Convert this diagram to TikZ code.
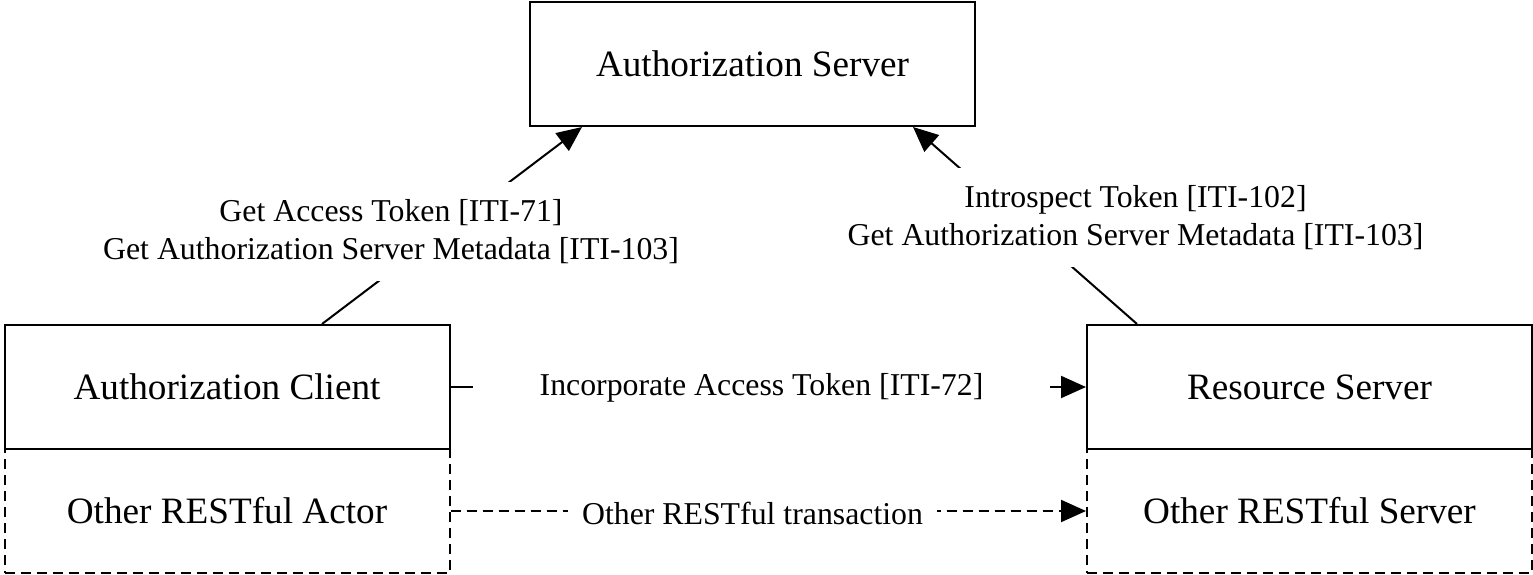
\documentclass[tikz,border=0pt]{standalone}
\usepackage{fontspec}
\setmainfont{Liberation Serif}
\usetikzlibrary{arrows.meta}
\begin{document}
\begin{tikzpicture}[x=1pt,y=-1pt,
  box/.style={draw, line width=2pt, minimum width=445pt, minimum height=124pt,
    inner sep=0pt, font=\fontsize{37.2}{44}\selectfont},
  altbox/.style={box, dash pattern=on 10pt off 6pt},
  flow/.style={line width=2pt, -{Triangle[length=25pt,width=22pt]}},
  altflow/.style={flow, dash pattern=on 10pt off 6pt},
  lbl/.style={fill=white, inner sep=0pt, align=center,
    font=\fontsize{31.8}{37.5}\selectfont}]
\useasboundingbox (0,0) rectangle (1533,575);

% actors
\node[box] (as) at (752.5,64) {Authorization Server};
\node[altbox] (ao) at (227,511) {Other RESTful Actor};
\node[altbox] (ro) at (1309.5,511) {Other RESTful Server};
\node[box] (ac) at (227,387) {Authorization Client};
\node[box] (rs) at (1309.5,387) {Resource Server};

% transactions
\draw[flow] ([xshift=95pt]ac.north) -- ([xshift=-170.5pt]as.south);
\draw[flow] ([xshift=-172.5pt]rs.north) -- ([xshift=160.5pt]as.south);
\draw[flow] (ac) -- (rs);
\draw[altflow] (ao) -- (ro);

% transaction labels
\node[lbl, minimum height=99pt] (l1) at (391,231.5)
  {Get Access Token [ITI-71]\\Get Authorization Server Metadata [ITI-103]};
\node[lbl, minimum height=99pt] (l2) at (1135.5,217.5)
  {Introspect Token [ITI-102]\\Get Authorization Server Metadata [ITI-103]};
\node[lbl, minimum width=577pt] (l3) at (761.5,388) {Incorporate Access Token [ITI-72]};
\node[lbl, minimum width=369pt] (l4) at (752.5,513) {Other RESTful transaction};
\end{tikzpicture}
\end{document}
